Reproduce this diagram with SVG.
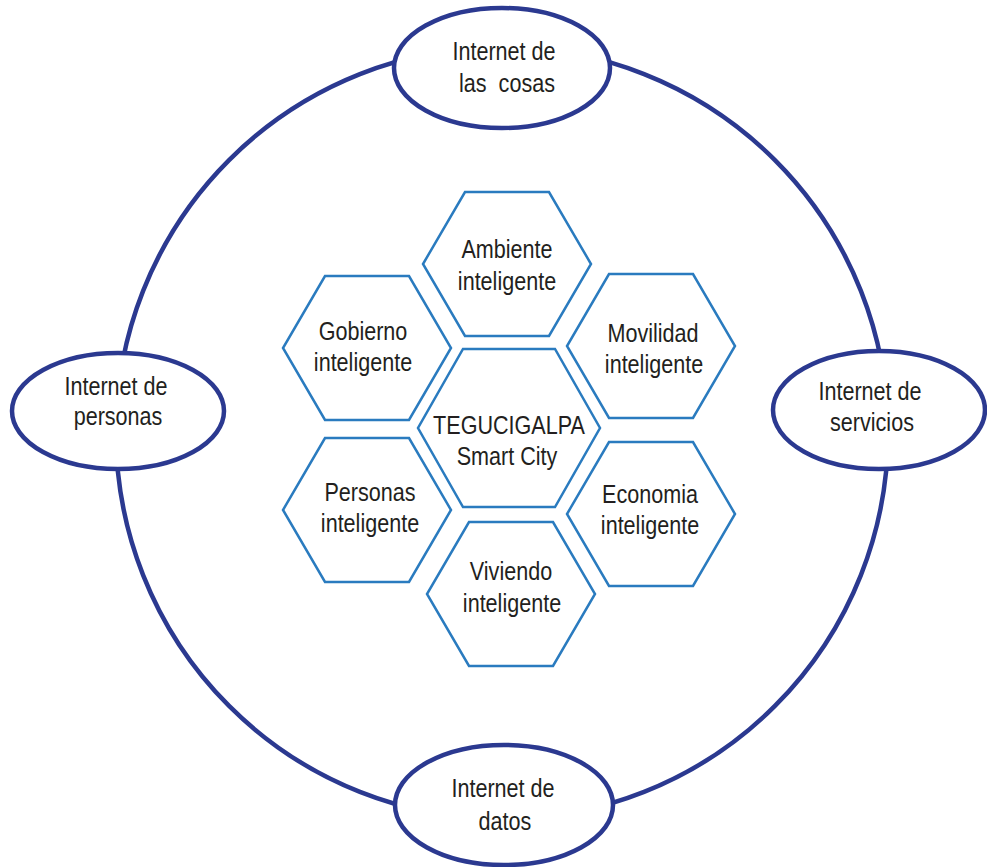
<svg xmlns="http://www.w3.org/2000/svg" xmlns:xlink="http://www.w3.org/1999/xlink" width="987" height="867" viewBox="0 0 987 867">
  <style>
    .ring { fill: none; stroke: #2b3990; stroke-width: 4.5; }
    .oval { fill: #ffffff; stroke: #2b3990; stroke-width: 4.5; }
    .hex { fill: #ffffff; stroke: #2a7bbf; stroke-width: 2.5; stroke-linejoin: miter; }
    .t { font-family: "Liberation Sans", Arial, sans-serif; font-size: 26px; fill: #231f20; text-anchor: middle; }
  </style>
  <defs>
    <polygon id="hex" points="-42,-72 42,-72 84,0 42,72 -42,72 -84,0"/>
    <polygon id="hexBig" points="-46,-79 46,-79 91,0 46,79 -46,79 -91,0"/>
  </defs>

  <rect width="987" height="867" fill="#ffffff"/>

  <!-- outer ring linking the four internet nodes -->
  <g id="connectors">
    <circle class="ring" cx="502" cy="433" r="386"/>
  </g>

  <!-- outer nodes -->
  <g id="iot">
    <ellipse class="oval" cx="502" cy="68" rx="108" ry="60"/>
    <text class="t" transform="translate(504,60) scale(0.83,1)">Internet de</text>
    <text class="t" transform="translate(507,92) scale(0.83,1)" xml:space="preserve">las  cosas</text>
  </g>
  <g id="personas-net">
    <ellipse class="oval" cx="118" cy="411" rx="106" ry="58"/>
    <text class="t" transform="translate(116,395) scale(0.83,1)">Internet de</text>
    <text class="t" transform="translate(118,425) scale(0.83,1)">personas</text>
  </g>
  <g id="servicios-net">
    <ellipse class="oval" cx="879" cy="410" rx="106" ry="59"/>
    <text class="t" transform="translate(870,400) scale(0.83,1)">Internet de</text>
    <text class="t" transform="translate(872,431) scale(0.83,1)">servicios</text>
  </g>
  <g id="datos-net">
    <ellipse class="oval" cx="504" cy="805" rx="109" ry="60"/>
    <text class="t" transform="translate(503,797) scale(0.83,1)">Internet de</text>
    <text class="t" transform="translate(505,830) scale(0.83,1)">datos</text>
  </g>

  <!-- hexagon cluster -->
  <g id="ambiente">
    <use xlink:href="#hex" href="#hex" class="hex" x="507" y="264"/>
    <text class="t" transform="translate(507,258) scale(0.83,1)">Ambiente</text>
    <text class="t" transform="translate(507,290) scale(0.83,1)">inteligente</text>
  </g>
  <g id="gobierno">
    <use xlink:href="#hex" href="#hex" class="hex" x="367" y="348"/>
    <text class="t" transform="translate(363,340) scale(0.83,1)">Gobierno</text>
    <text class="t" transform="translate(363,371) scale(0.83,1)">inteligente</text>
  </g>
  <g id="movilidad">
    <use xlink:href="#hex" href="#hex" class="hex" x="651" y="346"/>
    <text class="t" transform="translate(653,342) scale(0.83,1)">Movilidad</text>
    <text class="t" transform="translate(654,373) scale(0.83,1)">inteligente</text>
  </g>
  <g id="tegucigalpa">
    <use xlink:href="#hexBig" href="#hexBig" class="hex" x="509" y="428"/>
    <text class="t" transform="translate(509,434) scale(0.83,1)">TEGUCIGALPA</text>
    <text class="t" transform="translate(507,465) scale(0.83,1)">Smart City</text>
  </g>
  <g id="personas">
    <use xlink:href="#hex" href="#hex" class="hex" x="367" y="510"/>
    <text class="t" transform="translate(370,501) scale(0.83,1)">Personas</text>
    <text class="t" transform="translate(370,532) scale(0.83,1)">inteligente</text>
  </g>
  <g id="economia">
    <use xlink:href="#hex" href="#hex" class="hex" x="651" y="514"/>
    <text class="t" transform="translate(650,503) scale(0.83,1)">Economia</text>
    <text class="t" transform="translate(650,534) scale(0.83,1)">inteligente</text>
  </g>
  <g id="viviendo">
    <use xlink:href="#hex" href="#hex" class="hex" x="511" y="594"/>
    <text class="t" transform="translate(511,580) scale(0.83,1)">Viviendo</text>
    <text class="t" transform="translate(512,612) scale(0.83,1)">inteligente</text>
  </g>
</svg>
